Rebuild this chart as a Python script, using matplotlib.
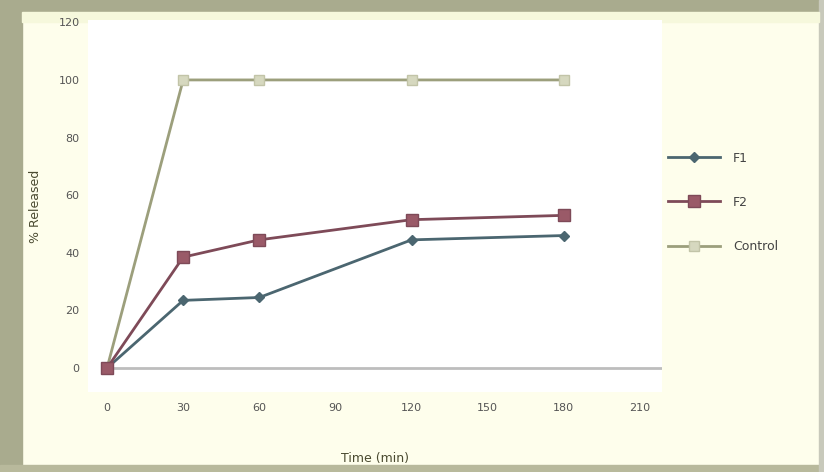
import matplotlib.pyplot as plt
from matplotlib.patches import Rectangle

# Data
time_min = [0, 30, 60, 120, 180]
series_f1 = [0, 23.5, 24.5, 44.5, 46]
series_f2 = [0, 38.5, 44.5, 51.5, 53]
control = [0, 100, 100, 100, 100]

x_ticks = [0, 30, 60, 90, 120, 150, 180, 210]
y_ticks = [0, 20, 40, 60, 80, 100, 120]

W, H = 824, 472
fig = plt.figure(figsize=(W / 100, H / 100), dpi=100)
fig.patch.set_facecolor('#fefeec')

# outer window frame
frame = '#a9ab8e'
bands = [
    ((0, 1 - 12 / H), 1, 12 / H, frame),
    ((0, 0), 22 / W, 1, frame),
    ((0, 0), 1, 7 / H, '#b8b99c'),
    ((1 - 5 / W, 0), 5 / W, 1, '#c8c9bb'),
    ((22 / W, 1 - 22 / H), 1 - 27 / W, 10 / H, '#f6f8dc'),
]
for xy, w, h, c in bands:
    fig.patches.append(Rectangle(xy, w, h, transform=fig.transFigure,
                                 color=c, zorder=-5))

ax = fig.add_axes([88 / W, 80 / H, 574 / W, 372 / H])
ax.set_zorder(2)
ax.set_facecolor('white')
for s in ax.spines.values():
    s.set_visible(False)

ax.axhline(0, xmin=0.033, color='#bdbdbd', lw=2, zorder=1)

ax.plot(time_min, series_f1, color='#4b6670', lw=2, marker='D', ms=5,
        mfc='#4b6670', mec='#4b6670', label='F1', zorder=3)
ax.plot(time_min, series_f2, color='#7e4a58', lw=2, marker='s', ms=8,
        mfc='#9a5a68', mec='#7e4a58', label='F2', zorder=4)
ax.plot(time_min, control, color='#9c9f7c', lw=2, marker='s', ms=7,
        mfc='#d6d8bf', mec='#c2c4a8', label='Control', zorder=2)

ax.set_xlim(-7.5, 218.7)
ax.set_ylim(-8.3, 120.8)
ax.set_xticks(x_ticks)
ax.set_yticks(y_ticks)
ax.tick_params(length=0, labelsize=8, colors='#555555', pad=8)
ax.tick_params(axis='y', pad=6)

ax.set_xlabel('Time (min)', fontsize=9, color='#4a4a30', labelpad=28)
ax.set_ylabel('% Released', fontsize=9, color='#4a4a30', labelpad=12)

leg = ax.legend(loc='center left', bbox_to_anchor=(0.995, 0.51), frameon=False,
                fontsize=9, labelspacing=2.5, handlelength=4.2, handletextpad=1.0,
                borderaxespad=0.3)
for t in leg.get_texts():
    t.set_color('#444444')

fig.savefig('out.png', dpi=100, facecolor=fig.get_facecolor())
